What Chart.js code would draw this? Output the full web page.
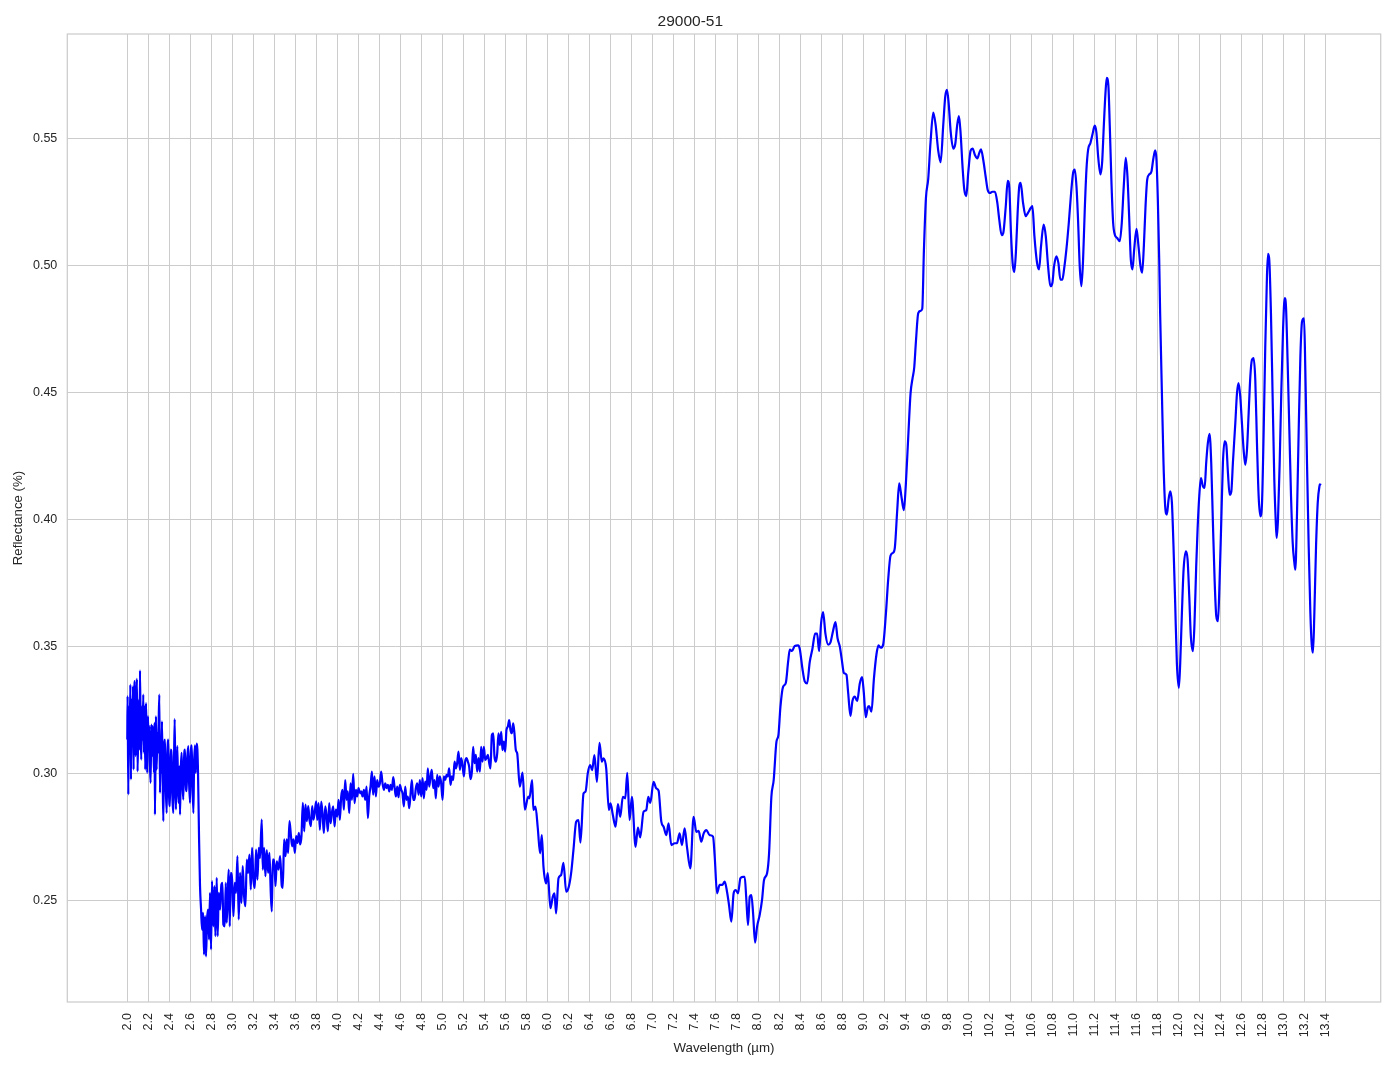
<!DOCTYPE html>
<html><head><meta charset="utf-8">
<script src="https://cdn.jsdelivr.net/npm/chart.js@4.4.1/dist/chart.umd.min.js"></script>
<style>html,body{margin:0;padding:0;background:#fff;}canvas{display:block;}</style>
</head><body>
<canvas id="c" width="1394" height="1069"></canvas>
<script>
const chartTitle = '29000-51';
const xLabel = 'Wavelength (µm)';
const yLabel = 'Reflectance (%)';
const xTicks = [2.0,2.2,2.4,2.6,2.8,3.0,3.2,3.4,3.6,3.8,4.0,4.2,4.4,4.6,4.8,5.0,5.2,5.4,5.6,5.8,6.0,6.2,6.4,6.6,6.8,7.0,7.2,7.4,7.6,7.8,8.0,8.2,8.4,8.6,8.8,9.0,9.2,9.4,9.6,9.8,10.0,10.2,10.4,10.6,10.8,11.0,11.2,11.4,11.6,11.8,12.0,12.2,12.4,12.6,12.8,13.0,13.2,13.4];
const yTicks = [0.25,0.30,0.35,0.40,0.45,0.50,0.55];
const xMin = 1.4295, xMax = 13.923, yMin = 0.2102, yMax = 0.5913;

const wlA = [2.000,2.003,2.010,2.016,2.022,2.029,2.035,2.041,2.048,2.054,
2.060,2.067,2.073,2.079,2.086,2.092,2.098,2.105,2.111,2.117,
2.121,2.127,2.133,2.140,2.146,2.152,2.159,2.165,2.171,2.178,
2.184,2.190,2.197,2.203,2.210,2.216,2.222,2.229,2.235,2.241,
2.248,2.254,2.260,2.263,2.270,2.273,2.279,2.286,2.292,2.298,
2.305,2.311,2.317,2.324,2.330,2.337,2.343,2.349,2.359,2.365,
2.375,2.381,2.390,2.397,2.406,2.413,2.422,2.429,2.438,2.444,
2.451,2.457,2.463,2.470,2.476,2.483,2.489,2.495,2.502,2.508,
2.517,2.524,2.533,2.540,2.549,2.556,2.565,2.571,2.581,2.587,
2.597,2.603,2.613,2.619,2.629,2.635,2.644,2.651,2.660,2.667,
2.673,2.683,2.692,2.702,2.711,2.721];
const rfA = [0.3135,0.3306,0.2919,0.3266,0.3096,0.3352,0.2978,0.3293,0.3135,0.3345,
0.3017,0.3319,0.3365,0.3070,0.3266,0.3374,0.3010,0.3201,0.3293,0.3096,
0.3408,0.3161,0.3056,0.3266,0.3135,0.3312,0.3083,0.3266,0.3017,0.3279,
0.3148,0.3004,0.3227,0.3096,0.3188,0.3030,0.2965,0.3194,0.3070,0.3188,
0.3135,0.3004,0.3201,0.2840,0.3135,0.3227,0.3017,0.3161,0.3083,0.3188,
0.3312,0.2925,0.3096,0.3004,0.3207,0.2978,0.2814,0.3070,0.3135,0.2965,
0.2846,0.3056,0.3135,0.2925,0.2873,0.3096,0.3070,0.2912,0.2846,0.3030,
0.3216,0.2978,0.2860,0.3030,0.3109,0.2951,0.2886,0.3030,0.2840,0.3004,
0.3083,0.2965,0.2899,0.3056,0.3096,0.2965,0.2932,0.3056,0.3109,0.2978,
0.2886,0.3056,0.3112,0.2978,0.2846,0.3030,0.3112,0.3004,0.3119,0.3096,
0.3004,0.2742,0.2558,0.2466,0.2387,0.2453];

const wlB = [2.730,2.740,2.749,2.759,2.768,2.778,2.787,2.797,2.806,2.819,
2.829,2.838,2.851,2.860,2.870,2.883,2.895,2.905,2.914,2.927,
2.937,2.946,2.956,2.965,2.975,2.984,2.997,3.010,3.022,3.035,
3.048,3.060,3.073,3.086,3.098,3.111,3.124,3.137,3.149,3.162,
3.175,3.187,3.200,3.213,3.225,3.238,3.251,3.263,3.279,3.289,
3.302,3.314,3.327,3.340,3.352,3.365,3.375,3.384,3.397,3.410,
3.422,3.438,3.454,3.470,3.479,3.492,3.505,3.517,3.530,3.543,
3.556,3.568,3.581,3.594,3.606,3.619,3.632,3.644,3.657,3.670,
3.683,3.695,3.708,3.721,3.733,3.746,3.759,3.771,3.784,3.797];
const rfB = [0.2289,0.2440,0.2282,0.2427,0.2466,0.2348,0.2532,0.2309,0.2578,0.2400,
0.2558,0.2361,0.2591,0.2361,0.2532,0.2466,0.2564,0.2571,0.2407,0.2400,
0.2571,0.2414,0.2532,0.2623,0.2400,0.2610,0.2584,0.2440,0.2571,0.2532,
0.2676,0.2427,0.2610,0.2492,0.2637,0.2519,0.2479,0.2663,0.2610,0.2682,
0.2545,0.2709,0.2584,0.2551,0.2702,0.2584,0.2709,0.2669,0.2820,0.2623,
0.2709,0.2597,0.2700,0.2610,0.2689,0.2532,0.2459,0.2663,0.2663,0.2558,
0.2656,0.2623,0.2676,0.2558,0.2551,0.2742,0.2676,0.2742,0.2689,0.2814,
0.2761,0.2715,0.2742,0.2689,0.2755,0.2728,0.2768,0.2722,0.2755,0.2886,
0.2774,0.2879,0.2814,0.2873,0.2820,0.2794,0.2873,0.2820,0.2853,0.2892];

const wlC = [3.807,3.820,3.832,3.845,3.858,3.870,3.883,3.896,3.908,3.921,
3.934,3.946,3.959,3.972,3.984,3.997,4.010,4.022,4.035,4.048,
4.060,4.073,4.086,4.098,4.111,4.124,4.137,4.149,4.162,4.175,
4.187,4.200,4.213,4.225,4.238,4.251,4.263,4.276,4.289,4.301,
4.314,4.327,4.339,4.352,4.365,4.377,4.390,4.403,4.415,4.428,
4.441,4.454,4.466,4.479,4.492,4.504,4.517,4.530,4.542,4.555,
4.568,4.580,4.593,4.606,4.618,4.631,4.644,4.656,4.669,4.682,
4.694,4.707,4.720,4.732,4.745,4.758,4.771,4.783,4.796,4.809,
4.821,4.834,4.847,4.859,4.872,4.885,4.897,4.910,4.923,4.935,
4.948,4.961,4.973,4.986,4.999,5.011,5.024,5.037,5.049,5.062,
5.075,5.088,5.100,5.113,5.126,5.138,5.151,5.164,5.176,5.189,
5.202,5.214,5.227,5.240,5.252,5.265,5.278,5.290,5.303,5.316,
5.328,5.341,5.354,5.366,5.379,5.392,5.405,5.417,5.430,5.443,
5.455,5.468,5.481,5.493,5.506,5.519,5.531,5.544,5.557,5.569,
5.582,5.595,5.607,5.620,5.633,5.645,5.658,5.671,5.683,5.696,
5.709,5.734,5.760,5.782,5.814];
const rfC = [0.2819,0.2885,0.2780,0.2891,0.2839,0.2767,0.2872,0.2832,0.2774,0.2885,
0.2806,0.2846,0.2872,0.2793,0.2859,0.2832,0.2898,0.2819,0.2911,0.2937,
0.2859,0.2976,0.2898,0.2931,0.2846,0.2963,0.2898,0.3000,0.2885,0.2937,
0.2911,0.2944,0.2924,0.2931,0.2911,0.2937,0.2898,0.2950,0.2826,0.2911,
0.2950,0.3009,0.2918,0.2990,0.2911,0.2976,0.2950,0.2963,0.3009,0.2963,
0.2937,0.2963,0.2944,0.2957,0.2931,0.2957,0.2937,0.2987,0.2950,0.2911,
0.2950,0.2908,0.2957,0.2937,0.2924,0.2872,0.2950,0.2898,0.2911,0.2865,
0.2918,0.2976,0.2898,0.2898,0.2944,0.2963,0.2918,0.2976,0.2911,0.2983,
0.2904,0.2970,0.2937,0.3022,0.2950,0.2990,0.3016,0.2944,0.2976,0.2904,
0.2996,0.2950,0.2990,0.2963,0.2898,0.2990,0.2976,0.2996,0.2990,0.3022,
0.2957,0.2990,0.2976,0.3048,0.3022,0.3042,0.3088,0.3016,0.3062,0.3035,
0.2990,0.3048,0.3062,0.3048,0.3029,0.2979,0.3009,0.3107,0.3042,0.3075,
0.3009,0.3062,0.3009,0.3107,0.3048,0.3107,0.3055,0.3062,0.3075,0.3042,
0.3022,0.3153,0.3160,0.3068,0.3048,0.3081,0.3160,0.3114,0.3166,0.3094,
0.3127,0.3088,0.3173,0.3186,0.3212,0.3173,0.3160,0.3199,0.3160,0.3094,
0.3081,0.2950,0.3005,0.2859,0.2911];

const wlD = [5.825,5.851,5.863,5.883,5.905,5.927,5.943,5.959,5.984,6.000,
6.025,6.048,6.064,6.079,6.102,6.127,6.149,6.175,6.200,6.222,
6.244,6.270,6.292,6.311,6.340,6.359,6.381,6.403,6.422,6.444,
6.467,6.492,6.514,6.530,6.556,6.581,6.597,6.619,6.645,6.667,
6.689,6.714,6.737,6.756,6.778,6.800,6.835,6.857,6.879,6.911,
6.937,6.956,6.975,7.006,7.032,7.054,7.080,7.102,7.127,7.149,
7.175,7.207,7.229,7.254,7.276,7.302,7.324,7.356,7.387,7.413,
7.435,7.460,7.483,7.508,7.540,7.572,7.588,7.610,7.635,7.660,
7.683,7.705,7.724,7.746,7.768,7.787,7.810,7.832,7.857,7.873,
7.889,7.905,7.921,7.937,7.953,7.972,7.991,8.016,8.038,8.057,
8.086,8.105,8.127,8.149,8.175,8.194,8.213,8.238,8.264,8.286];
const rfD = [0.2904,0.2976,0.2858,0.2871,0.2786,0.2687,0.2759,0.2635,0.2569,0.2609,
0.2471,0.2517,0.2530,0.2451,0.2589,0.2602,0.2650,0.2536,0.2556,0.2609,
0.2700,0.2812,0.2818,0.2729,0.2923,0.2930,0.3004,0.3035,0.3015,0.3074,
0.2969,0.3122,0.3048,0.3061,0.3021,0.2858,0.2884,0.2838,0.2792,0.2881,
0.2831,0.2910,0.2904,0.3004,0.2818,0.2910,0.2713,0.2789,0.2750,0.2851,
0.2858,0.2910,0.2886,0.2969,0.2943,0.2934,0.2812,0.2792,0.2759,0.2805,
0.2720,0.2727,0.2727,0.2766,0.2720,0.2786,0.2713,0.2628,0.2831,0.2772,
0.2776,0.2733,0.2766,0.2779,0.2759,0.2753,0.2674,0.2530,0.2563,0.2563,
0.2576,0.2536,0.2484,0.2418,0.2530,0.2543,0.2530,0.2589,0.2595,0.2595,
0.2504,0.2405,0.2517,0.2523,0.2451,0.2336,0.2399,0.2445,0.2504,0.2582,
0.2609,0.2687,0.2910,0.2976,0.3126,0.3153,0.3264,0.3343,0.3358,0.3441];

const wlE = [8.302,8.324,8.349,8.381,8.397,8.422,8.444,8.467,8.492,8.517,
8.543,8.562,8.581,8.600,8.619,8.641,8.667,8.689,8.714,8.737,
8.756,8.778,8.797,8.816,8.841,8.857,8.879,8.898,8.921,8.943,
8.968,8.990,9.006,9.025,9.044,9.057,9.079,9.102,9.127,9.146,
9.168,9.190,9.216,9.238,9.260,9.286,9.302,9.324,9.343,9.365,
9.387,9.406,9.429,9.451,9.470,9.486,9.502,9.524,9.546,9.562,
9.578,9.597,9.619,9.641,9.667,9.689,9.714,9.737,9.762,9.781,
9.797,9.813,9.832,9.857,9.876,9.895,9.911,9.927,9.946,9.962,
9.981,10.000,10.022,10.041,10.063,10.086,10.105,10.121,10.143,10.165,
10.184,10.206,10.229,10.254,10.276,10.295,10.317,10.333,10.356,10.375,
10.390,10.406,10.422,10.438,10.454,10.470,10.486];
const rfE = [0.3489,0.3484,0.3504,0.3506,0.3492,0.3415,0.3364,0.3356,0.3441,0.3492,
0.3552,0.3552,0.3484,0.3594,0.3637,0.3552,0.3509,0.3518,0.3564,0.3598,
0.3535,0.3501,0.3449,0.3398,0.3390,0.3321,0.3228,0.3287,0.3304,0.3287,
0.3356,0.3381,0.3321,0.3223,0.3262,0.3267,0.3245,0.3373,0.3472,0.3506,
0.3497,0.3509,0.3629,0.3765,0.3859,0.3871,0.3893,0.4038,0.4144,0.4089,
0.4038,0.4140,0.4328,0.4499,0.4558,0.4601,0.4703,0.4814,0.4823,0.4831,
0.5062,0.5266,0.5343,0.5488,0.5604,0.5556,0.5454,0.5408,0.5556,0.5667,
0.5693,0.5642,0.5531,0.5462,0.5480,0.5556,0.5590,0.5522,0.5386,0.5300,
0.5275,0.5369,0.5454,0.5462,0.5437,0.5423,0.5445,0.5459,0.5416,0.5352,
0.5300,0.5287,0.5292,0.5292,0.5249,0.5181,0.5121,0.5130,0.5232,0.5335,
0.5309,0.5130,0.5010,0.4976,0.5062,0.5215,0.5317];

const wlF = [10.498,10.521,10.546,10.568,10.594,10.610,10.629,10.654,10.673,10.692,
10.717,10.737,10.759,10.781,10.800,10.816,10.838,10.857,10.876,10.895,
10.911,10.933,10.956,10.978,10.997,11.013,11.029,11.044,11.060,11.076,
11.092,11.108,11.124,11.140,11.162,11.181,11.203,11.219,11.235,11.257,
11.273,11.289,11.305,11.317,11.333,11.346,11.362,11.378,11.394,11.416,
11.441,11.460,11.479,11.498,11.514,11.530,11.546,11.562,11.578,11.600,
11.619,11.638,11.654,11.670,11.686,11.702,11.721,11.743,11.759,11.778,
11.790,11.803,11.816];
const rfF = [0.5327,0.5248,0.5196,0.5209,0.5228,0.5235,0.5117,0.5012,0.4986,0.5078,
0.5163,0.5117,0.4999,0.4920,0.4933,0.4999,0.5038,0.5012,0.4946,0.4946,
0.4986,0.5064,0.5169,0.5287,0.5366,0.5379,0.5314,0.5182,0.4999,0.4920,
0.5025,0.5222,0.5379,0.5458,0.5484,0.5517,0.5552,0.5524,0.5432,0.5360,
0.5406,0.5550,0.5681,0.5740,0.5707,0.5550,0.5327,0.5169,0.5123,0.5110,
0.5097,0.5169,0.5314,0.5425,0.5353,0.5196,0.5025,0.4986,0.5064,0.5146,
0.5078,0.4999,0.4973,0.5078,0.5235,0.5340,0.5360,0.5373,0.5419,0.5455,
0.5419,0.5261,0.5025];

const wlG = [11.825,11.841,11.857,11.873,11.889,11.905,11.921,11.937,11.952,11.968,
11.984,12.003,12.016,12.032,12.048,12.070,12.086,12.102,12.117,12.137,
12.152,12.168,12.181,12.197,12.213,12.232,12.248,12.263,12.279,12.295,
12.311,12.327,12.343,12.359,12.375,12.390,12.406,12.422,12.438,12.454,
12.470,12.486,12.502,12.517,12.540,12.556,12.571,12.587,12.603,12.619,
12.635,12.651,12.667,12.683,12.698,12.714,12.730,12.746,12.762,12.778,
12.794,12.810,12.825,12.841,12.851,12.863,12.879,12.895,12.911,12.924,
12.933,12.946,12.962,12.978,12.994,13.010,13.022,13.038,13.054,13.070,
13.086,13.102,13.111,13.127,13.143,13.159,13.175,13.194,13.206,13.222,
13.238,13.254,13.267,13.279,13.292,13.308,13.324,13.340,13.352];
const rfG = [0.4814,0.4512,0.4224,0.4053,0.4021,0.4080,0.4112,0.4067,0.3896,0.3673,
0.3437,0.3339,0.3437,0.3634,0.3804,0.3876,0.3844,0.3699,0.3542,0.3483,
0.3595,0.3817,0.3962,0.4093,0.4165,0.4132,0.4126,0.4224,0.4303,0.4339,
0.4224,0.3988,0.3765,0.3621,0.3601,0.3752,0.3988,0.4224,0.4309,0.4296,
0.4185,0.4099,0.4112,0.4224,0.4381,0.4499,0.4539,0.4486,0.4381,0.4276,
0.4217,0.4276,0.4421,0.4565,0.4630,0.4637,0.4552,0.4303,0.4093,0.4014,
0.4067,0.4355,0.4683,0.4958,0.5047,0.5024,0.4814,0.4486,0.4158,0.4001,
0.3929,0.4001,0.4224,0.4512,0.4748,0.4873,0.4840,0.4617,0.4355,0.4093,
0.3909,0.3831,0.3804,0.4027,0.4355,0.4643,0.4781,0.4794,0.4591,0.4224,
0.3896,0.3634,0.3509,0.3477,0.3634,0.3896,0.4067,0.4132,0.4143];

const wavelength = [].concat(wlA, wlB, wlC, wlD, wlE, wlF, wlG);
const reflectance = [].concat(rfA, rfB, rfC, rfD, rfE, rfF, rfG);
const points = wavelength.map((x, i) => ({x: x, y: reflectance[i]}));

const FONT = "'Liberation Sans', Arial, Helvetica, sans-serif";
const TEXT = '#262626';
const GRID = '#cccccc';

const framePlugin = {
  id: 'frame',
  beforeDatasetsDraw(chart) {
    const {ctx, chartArea: a} = chart;
    ctx.save();
    ctx.strokeStyle = GRID;
    ctx.lineWidth = 1.25;
    ctx.strokeRect(a.left, a.top, a.right - a.left, a.bottom - a.top);
    ctx.restore();
  }
};

new Chart(document.getElementById('c'), {
  type: 'line',
  data: {
    datasets: [{
      data: points,
      borderColor: '#0000ff',
      borderWidth: 2.2,
      pointRadius: 0,
      fill: false,
      cubicInterpolationMode: 'monotone'
    }]
  },
  options: {
    responsive: false,
    animation: false,
    devicePixelRatio: 1,
    layout: {padding: {left: 0, right: 13.3, top: 0, bottom: 0}},
    plugins: {
      legend: {display: false},
      tooltip: {enabled: false},
      title: {
        display: true, text: chartTitle, color: TEXT,
        font: {family: FONT, size: 15.5, weight: 'normal', lineHeight: 1.2},
        padding: {top: 12, bottom: 3.4}
      }
    },
    scales: {
      x: {
        type: 'linear', min: xMin, max: xMax,
        afterBuildTicks: s => { s.ticks = xTicks.map(v => ({value: v})); },
        afterFit: s => { s.height = 67; },
        grid: {color: GRID, lineWidth: 1, drawTicks: false},
        border: {display: false},
        ticks: {
          autoSkip: false, maxRotation: 90, minRotation: 90, padding: 11,
          color: TEXT, font: {family: FONT, size: 12.5},
          callback: v => Number(v).toFixed(1)
        },
        title: {display: true, text: xLabel, color: TEXT,
          font: {family: FONT, size: 13.3}, padding: {top: 0, bottom: 13}}
      },
      y: {
        type: 'linear', min: yMin, max: yMax,
        afterBuildTicks: s => { s.ticks = yTicks.map(v => ({value: v})); },
        afterFit: s => { s.width = 67.3; },
        grid: {color: GRID, lineWidth: 1, drawTicks: false},
        border: {display: false},
        ticks: {
          padding: 10, color: TEXT, font: {family: FONT, size: 12.5},
          callback: v => Number(v).toFixed(2)
        },
        title: {display: true, text: yLabel, color: TEXT,
          font: {family: FONT, size: 13.3}, padding: {top: 10, bottom: 0}}
      }
    }
  },
  plugins: [framePlugin]
});
</script>
</body></html>
